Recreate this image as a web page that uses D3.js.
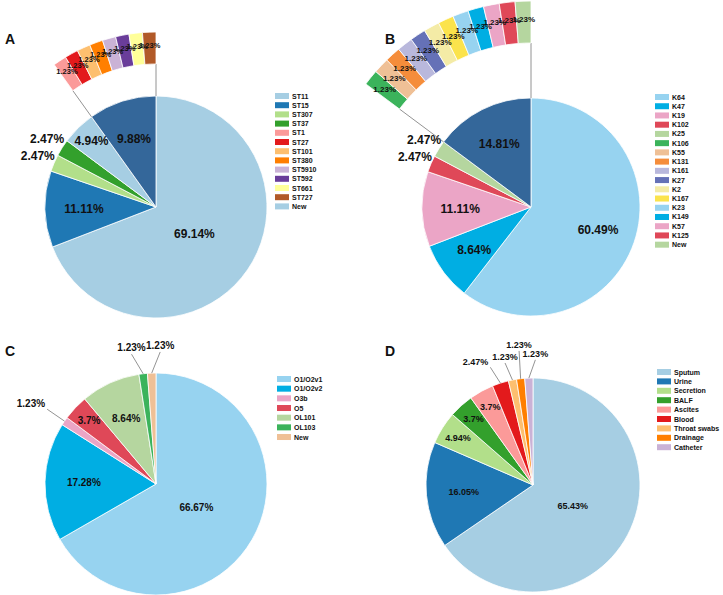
<!DOCTYPE html>
<html>
<head>
<meta charset="utf-8">
<script src="https://cdn.jsdelivr.net/npm/d3@7/dist/d3.min.js"></script>
<style>
  body { margin: 0; background: #fff; }
  text { font-family: "Liberation Sans", Arial, sans-serif; font-weight: bold; fill: #111; }
</style>
</head>
<body>
<script>
// ---- data (percent of 81 isolates) ----
// A: sequence types
var A_NAMES = ["ST11", "ST15", "ST307", "ST37", "ST1", "ST27", "ST101", "ST380", "ST5910", "ST592", "ST661", "ST727", "New"];
var A_VALUES = [69.14, 11.11, 2.47, 2.47, 1.23, 1.23, 1.23, 1.23, 1.23, 1.23, 1.23, 1.23, 4.94];
var A_PIE = ["ST11", "ST15", "ST307", "ST37", "New"];
var A_BAR = ["ST1", "ST27", "ST101", "ST380", "ST5910", "ST592", "ST661", "ST727"];
var A_OTHER = 9.88;

// B: capsular types
var B_NAMES = ["K64", "K47", "K19", "K102", "K25", "K106", "K55", "K131", "K161", "K27", "K2", "K167", "K23", "K149", "K57", "K125", "New"];
var B_VALUES = [60.49, 8.64, 11.11, 2.47, 2.47, 1.23, 1.23, 1.23, 1.23, 1.23, 1.23, 1.23, 1.23, 1.23, 1.23, 1.23, 1.23];
var B_PIE = ["K64", "K47", "K19", "K102", "K25"];
var B_BAR = ["K106", "K55", "K131", "K161", "K27", "K2", "K167", "K23", "K149", "K57", "K125", "New"];
var B_OTHER = 14.81;

// C: O antigen types
var C_NAMES = ["O1/O2v1", "O1/O2v2", "O3b", "O5", "OL101", "OL103", "New"];
var C_VALUES = [66.67, 17.28, 1.23, 3.7, 8.64, 1.23, 1.23];

// D: specimen source
var D_NAMES = ["Sputum", "Urine", "Secretion", "BALF", "Ascites", "Blood", "Throat swabs", "Drainage", "Catheter"];
var D_VALUES = [65.43, 16.05, 4.94, 3.7, 3.7, 2.47, 1.23, 1.23, 1.23];

// ---- colours ----
var PAIRED = ["#a6cee3", "#1f78b4", "#b2df8a", "#33a02c", "#fb9a99", "#e31a1c", "#fdbf6f", "#ff7f00", "#cab2d6", "#6a3d9a", "#ffff99", "#b15928"];
var SOFT = ["#97d3f0", "#00aee3", "#eba5c6", "#df4858", "#b5d69f", "#3bb35b", "#efc096", "#f58d3b", "#b9b8dc", "#6571b7", "#f4eba6", "#fbe34c"];
var OTHER_COLOR = "#34679a";

var A_COLORS = PAIRED.concat(["#a6cee3"]);
var B_COLORS = B_NAMES.map(function (d, i) { return SOFT[i % SOFT.length]; });
var C_COLORS = SOFT.slice(0, 7);
var D_COLORS = PAIRED.slice(0, 9);

var svg = d3.select("body").append("svg").attr("width", 723).attr("height", 595);

function pt(a, rad) { return [rad * Math.sin(a), -rad * Math.cos(a)]; }
function pct(v) { return v + "%"; }

function build(names, values, colors, pieNames, barNames, other) {
  var lookup = {};
  names.forEach(function (n, i) { lookup[n] = { name: n, v: values[i], c: colors[i] }; });
  var slices = (pieNames || names).map(function (n) { return lookup[n]; });
  var bar = null;
  if (barNames) {
    slices.push({ name: "other", v: other, c: OTHER_COLOR, other: true });
    bar = barNames.map(function (n) { return lookup[n]; });
  }
  return { slices: slices, bar: bar, legend: names.map(function (n) { return lookup[n]; }) };
}

function panel(o, d) {
  svg.append("text").attr("x", o.lx).attr("y", o.ly).style("font-size", "14px").text(o.letter);

  var g = svg.append("g").attr("transform", "translate(" + o.cx + "," + o.cy + ")");
  var arcs = d3.pie().sort(null).value(function (s) { return s.v; })(d.slices);
  var arc = d3.arc().innerRadius(0).outerRadius(o.r);

  g.selectAll("path.slice").data(arcs).enter().append("path")
    .attr("class", "slice")
    .attr("d", arc)
    .attr("fill", function (a) { return a.data.c; })
    .attr("stroke", "#fff").attr("stroke-width", 0.8);

  // inside labels
  arcs.filter(function (a) { return a.data.v >= 3; }).forEach(function (a) {
    var v = a.data.v;
    var f = v > 62 ? 0.42 : (v >= 8 ? 0.65 : 0.83);
    var p = pt((a.startAngle + a.endAngle) / 2, o.r * f);
    g.append("text").attr("x", p[0]).attr("y", p[1]).attr("dy", "0.35em")
      .attr("text-anchor", "middle").style("font-size", o.fs + "px").text(pct(v));
  });

  // outside labels, spread apart where they crowd
  var outs = arcs.filter(function (a) { return a.data.v < 3; }).map(function (a) {
    var m = (a.startAngle + a.endAngle) / 2;
    return { a: a, mid: m, ang: m };
  });
  var sep = o.minSep * Math.PI / 180;
  var clusters = outs.map(function (x) { return [x]; });
  var merged = true;
  while (merged) {
    merged = false;
    clusters.forEach(function (c) {
      var mean = d3.mean(c, function (x) { return x.mid; });
      c.forEach(function (x, i) { x.ang = mean + (i - (c.length - 1) / 2) * sep; });
    });
    for (var i = 0; i < clusters.length - 1; i++) {
      var c1 = clusters[i], c2 = clusters[i + 1];
      if (c2[0].ang - c1[c1.length - 1].ang < sep - 1e-6) {
        clusters.splice(i, 2, c1.concat(c2));
        merged = true;
        break;
      }
    }
  }
  clusters.forEach(function (c) {
    c.forEach(function (x, i) {
      if (!o.leaders) {
        var p = pt(x.ang, o.r * 1.16);
        g.append("text").attr("x", p[0]).attr("y", p[1]).attr("dy", "0.35em")
          .attr("text-anchor", "middle").style("font-size", o.fs + "px").text(pct(x.a.data.v));
        return;
      }
      var top = Math.abs(Math.sin(x.ang)) < 0.3;
      // stagger crowded labels in height, counting from the right-hand end
      var high = top && c.length > 2 && (c.length - 1 - i) % 2 === 1;
      var lr = o.r * (high ? o.leadR + 0.09 : o.leadR);
      var p0 = pt(x.mid, o.r), p1 = pt(x.ang, lr);
      g.append("line").attr("x1", p0[0]).attr("y1", p0[1]).attr("x2", p1[0]).attr("y2", p1[1])
        .attr("stroke", "#777").attr("stroke-width", 0.8);
      g.append("text")
        .attr("x", top ? p1[0] : p1[0] - 2)
        .attr("y", top ? p1[1] - 3 : p1[1] - 2)
        .attr("text-anchor", top ? "middle" : "end")
        .style("font-size", o.fs + "px").text(pct(x.a.data.v));
    });
  });

  // bar of pie: the "other" slice opened up as a band above the pie
  if (d.bar) {
    var oth = arcs.filter(function (a) { return a.data.other; })[0];
    var barArcs = d3.pie().sort(null).value(function (s) { return s.v; })
      .startAngle(oth.startAngle).endAngle(oth.endAngle)(d.bar);
    var band = d3.arc().innerRadius(o.bandIn).outerRadius(o.bandOut);
    [oth.startAngle, oth.endAngle].forEach(function (a) {
      var p0 = pt(a, o.r), p1 = pt(a, o.bandIn);
      g.append("line").attr("x1", p0[0]).attr("y1", p0[1]).attr("x2", p1[0]).attr("y2", p1[1])
        .attr("stroke", "#777").attr("stroke-width", 0.8);
    });
    g.selectAll("path.bar").data(barArcs).enter().append("path")
      .attr("class", "bar")
      .attr("d", band)
      .attr("fill", function (a) { return a.data.c; })
      .attr("stroke", "#fff").attr("stroke-width", 0.8);
    barArcs.forEach(function (a) {
      var p = pt((a.startAngle + a.endAngle) / 2, (o.bandIn + o.bandOut) / 2 + 3);
      g.append("text").attr("x", p[0]).attr("y", p[1]).attr("dy", "0.35em")
        .attr("text-anchor", "middle").style("font-size", o.barFs + "px").text(pct(a.data.v));
    });
  }

  // legend
  var lg = svg.append("g").attr("transform", "translate(" + o.legX + "," + o.legY + ")");
  d.legend.forEach(function (s, i) {
    lg.append("rect").attr("x", 0).attr("y", i * o.legStep - 3).attr("width", 14).attr("height", 6).attr("fill", s.c);
    lg.append("text").attr("x", 17).attr("y", i * o.legStep + 2.5).style("font-size", "7px").text(s.name);
  });
}

panel({ letter: "A", lx: 5, ly: 44, cx: 156, cy: 207, r: 111, bandIn: 143, bandOut: 175, fs: 12, barFs: 7.5,
        minSep: 7, leaders: false, legX: 275, legY: 96, legStep: 9.2 },
      build(A_NAMES, A_VALUES, A_COLORS, A_PIE, A_BAR, A_OTHER));

panel({ letter: "B", lx: 385, ly: 44, cx: 531, cy: 207, r: 109, bandIn: 164, bandOut: 206, fs: 12, barFs: 8,
        minSep: 7, leaders: false, legX: 655, legY: 97, legStep: 9.23 },
      build(B_NAMES, B_VALUES, B_COLORS, B_PIE, B_BAR, B_OTHER));

panel({ letter: "C", lx: 5, ly: 356, cx: 156, cy: 484, r: 111, fs: 10,
        minSep: 12.5, leaders: true, leadR: 1.19, legX: 277, legY: 379, legStep: 9.67 },
      build(C_NAMES, C_VALUES, C_COLORS));

panel({ letter: "D", lx: 385, ly: 356, cx: 533, cy: 485, r: 107, fs: 9,
        minSep: 7, leaders: true, leadR: 1.17, legX: 657, legY: 372, legStep: 9.4 },
      build(D_NAMES, D_VALUES, D_COLORS));
</script>
</body>
</html>
